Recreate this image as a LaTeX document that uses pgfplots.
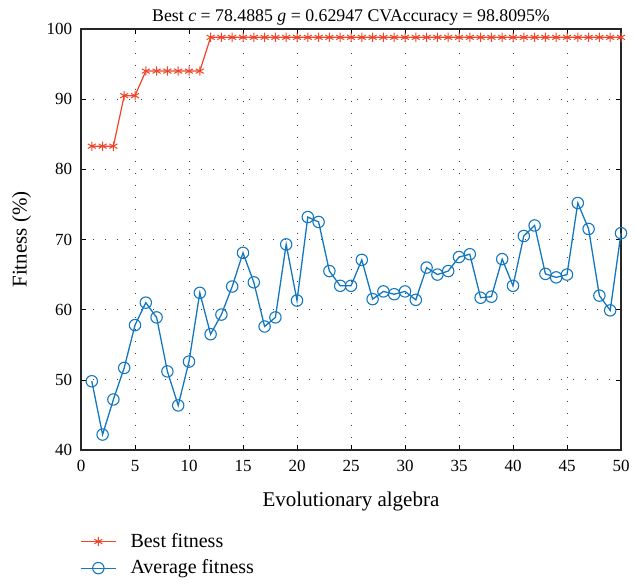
\documentclass[border=0pt]{standalone}
\usepackage{fontspec}
\setmainfont{Liberation Serif}
\usepackage{pgfplots}
\pgfplotsset{compat=1.18}
\usepackage{pgfplotstable}

\definecolor{bestred}{RGB}{238,68,42}
\definecolor{avgblue}{RGB}{20,120,192}

\pgfplotstableread{
gen best avg
1 83.3 49.8
2 83.3 42.2
3 83.3 47.2
4 90.5 51.7
5 90.5 57.8
6 94.0 61.0
7 94.0 58.9
8 94.0 51.2
9 94.0 46.35
10 94.0 52.6
11 94.0 62.4
12 98.81 56.5
13 98.81 59.3
14 98.81 63.3
15 98.81 68.1
16 98.81 63.9
17 98.81 57.6
18 98.81 58.9
19 98.81 69.3
20 98.81 61.3
21 98.81 73.2
22 98.81 72.5
23 98.81 65.5
24 98.81 63.4
25 98.81 63.4
26 98.81 67.1
27 98.81 61.5
28 98.81 62.6
29 98.81 62.2
30 98.81 62.6
31 98.81 61.4
32 98.81 66.0
33 98.81 65.0
34 98.81 65.5
35 98.81 67.5
36 98.81 67.9
37 98.81 61.7
38 98.81 61.85
39 98.81 67.2
40 98.81 63.4
41 98.81 70.5
42 98.81 72.0
43 98.81 65.1
44 98.81 64.6
45 98.81 65.0
46 98.81 75.2
47 98.81 71.5
48 98.81 62.0
49 98.81 59.9
50 98.81 70.9
}\fitness

\begin{document}
\fontsize{17}{20}\selectfont
\begin{tikzpicture}
\begin{axis}[
  scale only axis,
  width=540pt, height=421pt,
  xmin=0, xmax=50, ymin=40, ymax=100,
  xtick={0,5,...,50}, ytick={40,50,...,100},
  tick align=inside,
  major tick length=5pt,
  tick style={black, line width=0.6pt},
  axis line style={black!85, line width=1.3pt},
  grid=major,
  grid style={black!75, line width=0.9pt, dash pattern=on 0.9pt off 11.1pt},
  clip=false,
  /pgf/number format/assume math mode=true,
  ticklabel style={font=\fontsize{17}{20}\selectfont},
  xticklabel style={yshift=-4pt},
  yticklabel style={xshift=-3pt},
  title={Best \textit{c} = 78.4885 \textit{g} = 0.62947 CVAccuracy = 98.8095\%},
  title style={font=\fontsize{17.8}{21}\selectfont, yshift=-8pt},
  xlabel={Evolutionary algebra},
  ylabel={Fitness (\%)},
  label style={font=\fontsize{21}{25}\selectfont},
  xlabel style={yshift=-9pt},
  ylabel style={yshift=4pt},
  legend cell align=left,
  legend image code/.code={%
    \draw[mark repeat=2, mark phase=2, #1]
      plot coordinates {(0pt,0pt) (17.5pt,0pt) (35pt,0pt)};
    \path (47pt,0pt);},
  legend style={at={(0,0)}, anchor=north west, xshift=-4pt, yshift=-79pt,
    draw=none, fill=none, font=\fontsize{20}{24}\selectfont,
    row sep=6pt, nodes={inner sep=2pt}},
]
\addplot[color=bestred, line width=1.2pt, mark=asterisk, mark size=4.6pt,
  mark options={line width=1pt}] table[x=gen, y=best] {\fitness};
\addlegendentry{Best fitness}
\addplot[color=avgblue, line width=1.3pt, mark=o, mark size=5.7pt,
  mark options={line width=1.1pt}] table[x=gen, y=avg] {\fitness};
\addlegendentry{Average fitness}
\path (current axis.south west) ++(-81pt,-133pt) coordinate (bbl);
\path (current axis.north east) ++(15pt,29pt) coordinate (btr);
\end{axis}
\useasboundingbox (bbl) rectangle (btr);
\end{tikzpicture}
\end{document}
